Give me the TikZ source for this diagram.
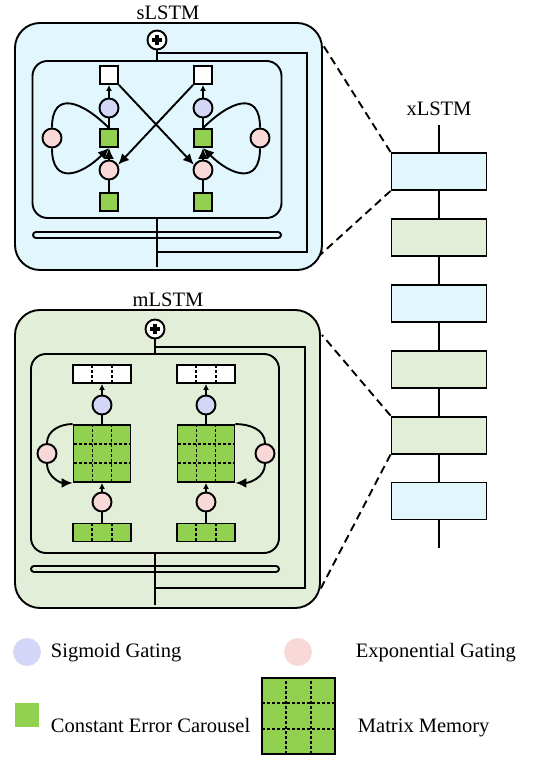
\documentclass[tikz,border=0pt]{standalone}
\usepackage{fontspec}
\setmainfont{Liberation Serif}
\usetikzlibrary{arrows.meta,positioning,calc}
\definecolor{scyan}{HTML}{E1F7FD}
\definecolor{mgreen}{HTML}{E2EED8}
\definecolor{ceggreen}{HTML}{92D050}
\definecolor{sigviolet}{HTML}{D4D6F8}
\definecolor{exppink}{HTML}{F9D8D8}

\begin{document}
\begin{tikzpicture}[x=1pt, y=1pt, line width=1.9pt, font=\fontsize{20.5}{24}\selectfont, node distance=30pt,
  griddash/.style={line width=1.9pt, dash pattern=on 3pt off 2pt},
  cell/.style={rectangle, draw, minimum size=18pt, inner sep=0pt},
  ceg/.style={cell, fill=ceggreen},
  sgate/.style={circle, draw, fill=sigviolet, minimum size=19pt, inner sep=0pt},
  egate/.style={circle, draw, fill=exppink, minimum size=19pt, inner sep=0pt},
  vec/.style={rectangle, draw, minimum width=58pt, minimum height=18pt, inner sep=0pt,
    path picture={\foreach \f in {1,2}
      \draw[griddash] ($(path picture bounding box.south west)!\f/3!(path picture bounding box.south east)$) -- ($(path picture bounding box.north west)!\f/3!(path picture bounding box.north east)$);}},
  memory/.style={rectangle, draw, fill=ceggreen, minimum size=57pt, inner sep=0pt,
    path picture={\foreach \f in {1,2} {
      \draw[griddash] ($(path picture bounding box.south west)!\f/3!(path picture bounding box.south east)$) -- ($(path picture bounding box.north west)!\f/3!(path picture bounding box.north east)$);
      \draw[griddash] ($(path picture bounding box.south west)!\f/3!(path picture bounding box.north west)$) -- ($(path picture bounding box.south east)!\f/3!(path picture bounding box.north east)$);}}},
  addnode/.style={circle, draw, fill=white, minimum size=19pt, inner sep=0pt,
    path picture={\draw[line width=4pt] ([xshift=-5pt]path picture bounding box.center) -- ([xshift=5pt]path picture bounding box.center)
      ([yshift=-5pt]path picture bounding box.center) -- ([yshift=5pt]path picture bounding box.center);}},
  xblock/.style={rectangle, draw, minimum width=95pt, minimum height=37pt, inner sep=0pt},
  bar/.style={rectangle, draw, rounded corners=3pt, minimum height=6pt, inner sep=0pt},
  small/.style={-{Latex[length=6pt,width=6pt]}},
  bold/.style={-{Latex[length=11pt,width=10pt]}}]
  \useasboundingbox (0,0) rectangle (550,761);

  % sLSTM block
  \node[draw, fill=scyan, rounded corners=25pt, minimum width=307pt, minimum height=247pt, inner sep=0pt] (sout) at (168.5,614.5) {};
  \node[anchor=south, inner sep=0pt] (stitle) at (168,740) {sLSTM};
  \node[draw, rounded corners=15pt, minimum width=249pt, minimum height=157pt, inner sep=0pt] (sinner) at (157,621.5) {};
  \node[bar, fill=scyan, minimum width=248pt] (sbar) at (157,526) {};
  \node[addnode] (splus) at (157,721) {};
  \coordinate (sskip) at (157,708);
  \coordinate (sright) at (307,509);
  \coordinate (send) at (157,494);
  \draw (splus) -- (sinner.north);
  \draw (sskip) -| (sright) -- (sright -| splus);
  \draw (sinner.south) -- (send);

  \node[cell, fill=white] (sw1) at (109,686) {};
  \node[sgate, below of=sw1, node distance=33pt] (sv1) {};
  \node[ceg, below of=sv1] (sc1) {};
  \node[egate, below of=sc1, node distance=32pt] (se1) {};
  \node[ceg, below of=se1, node distance=32pt] (sz1) {};
  \node[egate, left of=sc1, node distance=57pt] (sl1) {};

  \node[cell, fill=white] (sw2) at (203,686) {};
  \node[sgate, below of=sw2, node distance=33pt] (sv2) {};
  \node[ceg, below of=sv2] (sc2) {};
  \node[egate, below of=sc2, node distance=32pt] (se2) {};
  \node[ceg, below of=se2, node distance=32pt] (sz2) {};
  \node[egate, right of=sc2, node distance=57pt] (sl2) {};

  \draw[small] (sv1) -- (sw1);
  \draw (sc1) -- (sv1);
  \draw[bold] (se1) -- (sc1);
  \draw (sz1) -- (se1);
  \draw (sc1.north) to[out=135, in=90, looseness=1.7] (sl1.north);
  \draw[bold] (sl1.south) to[out=-90, in=-135, looseness=1.7] (sc1.south);
  \draw[small] (sv2) -- (sw2);
  \draw (sc2) -- (sv2);
  \draw[bold] (se2) -- (sc2);
  \draw (sz2) -- (se2);
  \draw (sc2.north) to[out=45, in=90, looseness=1.7] (sl2.north);
  \draw[bold] (sl2.south) to[out=-90, in=-45, looseness=1.7] (sc2.south);
  \draw[bold] (sw1.south east) -- (se2.150);
  \draw[bold] (sw2.south west) -- (se1.30);

  % mLSTM block
  \node[draw, fill=mgreen, rounded corners=25pt, minimum width=305pt, minimum height=298pt, inner sep=0pt] (mout) at (167.5,302) {};
  \node[anchor=south, inner sep=0pt] (mtitle) at (168,453) {mLSTM};
  \node[draw, rounded corners=15pt, minimum width=248pt, minimum height=199pt, inner sep=0pt] (minner) at (155,307.5) {};
  \node[bar, fill=mgreen, minimum width=248pt] (mbar) at (155,192) {};
  \node[addnode] (mplus) at (155,432) {};
  \coordinate (mskip) at (155,414);
  \coordinate (mright) at (305,173);
  \coordinate (mend) at (155,156);
  \draw (mplus) -- (minner.north);
  \draw (mskip) -| (mright) -- (mright -| mplus);
  \draw (minner.south) -- (mend);

  \node[vec, fill=white] (mw1) at (102,387) {};
  \node[sgate, below of=mw1, node distance=31pt] (mv1) {};
  \node[memory, below of=mv1, node distance=48.5pt] (mm1) {};
  \node[egate, below of=mm1, node distance=48.5pt] (me1) {};
  \node[vec, fill=ceggreen, below of=me1, node distance=30.5pt] (mz1) {};
  \node[egate, left of=mm1, node distance=55pt] (ml1) {};

  \node[vec, fill=white] (mw2) at (206,387) {};
  \node[sgate, below of=mw2, node distance=31pt] (mv2) {};
  \node[memory, below of=mv2, node distance=48.5pt] (mm2) {};
  \node[egate, below of=mm2, node distance=48.5pt] (me2) {};
  \node[vec, fill=ceggreen, below of=me2, node distance=30.5pt] (mz2) {};
  \node[egate, right of=mm2, node distance=59pt] (ml2) {};

  \draw[small] (mv1) -- (mw1);
  \draw (mm1) -- (mv1);
  \draw[small] (me1) -- (mm1);
  \draw (mz1) -- (me1);
  \draw (mm1.north west) to[out=180, in=90] (ml1.north);
  \draw[bold] (ml1.south) to[out=-90, in=180] (mm1.south west);
  \draw[small] (mv2) -- (mw2);
  \draw (mm2) -- (mv2);
  \draw[small] (me2) -- (mm2);
  \draw (mz2) -- (me2);
  \draw (mm2.north east) to[out=0, in=90] (ml2.north);
  \draw[bold] (ml2.south) to[out=-90, in=0] (mm2.south east);

  % xLSTM stack
  \node[anchor=south, inner sep=0pt] (xtitle) at (439,644) {xLSTM};
  \coordinate (xtop) at (439,636);
  \node[xblock, fill=scyan] (x1) at (439,589.5) {};
  \node[xblock, fill=mgreen, below of=x1, node distance=65.9pt] (x2) {};
  \node[xblock, fill=scyan, below of=x2, node distance=65.9pt] (x3) {};
  \node[xblock, fill=mgreen, below of=x3, node distance=65.9pt] (x4) {};
  \node[xblock, fill=mgreen, below of=x4, node distance=65.9pt] (x5) {};
  \node[xblock, fill=scyan, below of=x5, node distance=65.9pt] (x6) {};
  \coordinate (xbot) at (439,213);
  \draw (xtop) -- (x1) -- (x2) -- (x3) -- (x4) -- (x5) -- (x6) -- (xbot);

  \coordinate (szt) at (323,716);
  \coordinate (szb) at (320,506);
  \coordinate (mzt) at (322,426);
  \coordinate (mzb) at (320,171);
  \draw[dash pattern=on 8pt off 5pt] (x1.north west) -- (szt);
  \draw[dash pattern=on 8pt off 5pt] (x1.south west) -- (szb);
  \draw[dash pattern=on 8pt off 5pt] (x5.north west) -- (mzt);
  \draw[dash pattern=on 8pt off 5pt] (x5.south west) -- (mzb);

  % legend
  \node[circle, fill=sigviolet, draw=sigviolet, minimum size=26pt] (lsig) at (27,109) {};
  \node[anchor=base west, inner sep=0pt] (lsigt) at (50,103) {Sigmoid Gating};
  \node[circle, fill=exppink, draw=exppink, minimum size=26pt] (lexp) at (298,109) {};
  \node[anchor=base west, inner sep=0pt] (lexpt) at (355,103) {Exponential Gating};
  \node[rectangle, fill=ceggreen, minimum size=24pt, inner sep=0pt] (lceg) at (27,45.5) {};
  \node[anchor=base west, inner sep=0pt] (lcegt) at (50,28) {Constant Error Carousel};
  \node[memory, minimum width=73pt, minimum height=76pt, line width=1.2pt] (lmem) at (298.5,45) {};
  \node[anchor=base west, inner sep=0pt] (lmemt) at (357,28) {Matrix Memory};
\end{tikzpicture}
\end{document}
